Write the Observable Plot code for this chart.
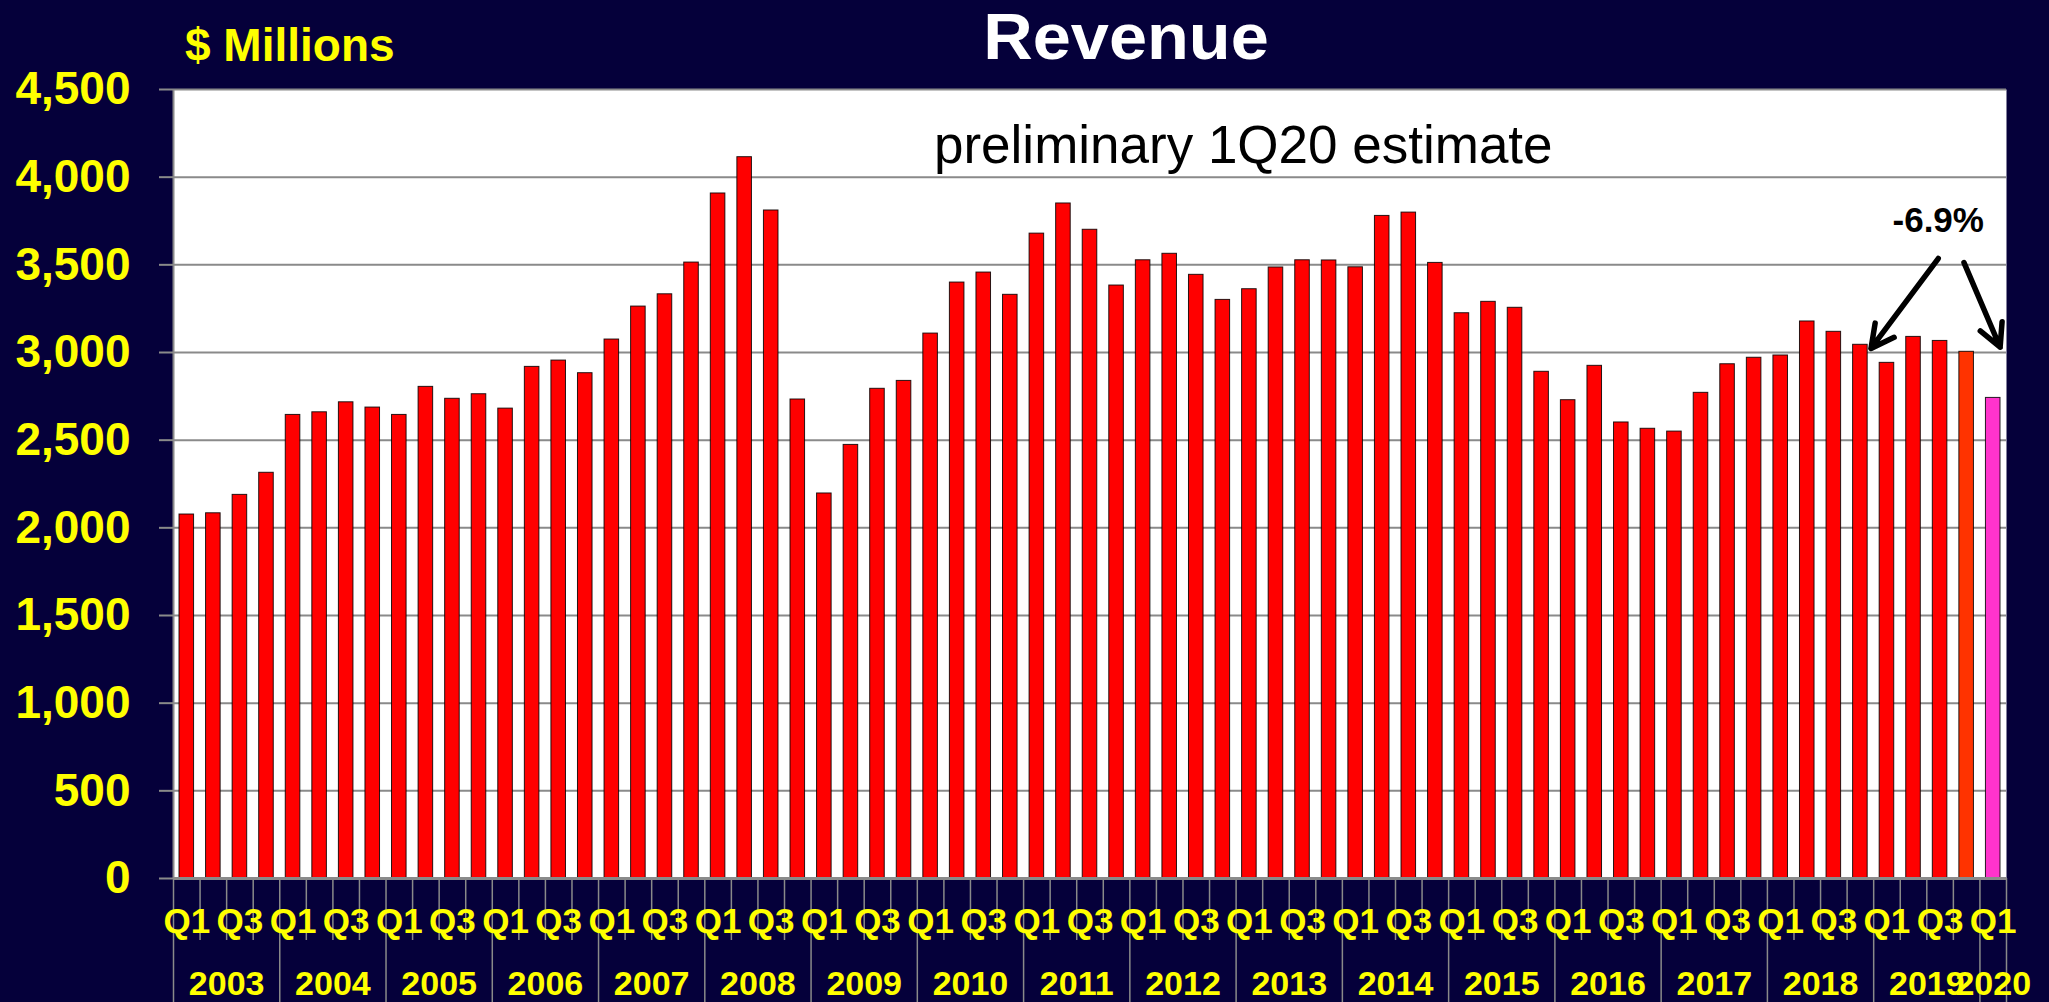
<!DOCTYPE html>
<html>
<head>
<meta charset="utf-8">
<script src="https://cdn.jsdelivr.net/npm/d3@7"></script>
<script src="https://cdn.jsdelivr.net/npm/@observablehq/plot@0.6"></script>
<style>
  html, body { margin: 0; padding: 0; background: #05003a; }
  #wrap { position: relative; width: 2049px; height: 1002px; overflow: hidden; background: #05003a; font-family: "Liberation Sans", Arial, sans-serif; }
  #wrap svg { position: absolute; left: 0; top: 0; }
  .lbl { position: absolute; line-height: 1; white-space: nowrap; font-weight: bold; }
</style>
</head>
<body>
<div id="wrap">
  <div class="lbl" id="title" style="color:#ffffff;font-size:64px;left:0;width:2252px;text-align:center;top:5px;transform:scaleX(1.07);transform-origin:1126px 0;">Revenue</div>
  <div class="lbl" id="unit" style="color:#ffff00;font-size:46px;left:185px;top:22px;">$ Millions</div>
</div>
<script>
// ---- data ----
const years = [2003, 2004, 2005, 2006, 2007, 2008, 2009, 2010, 2011, 2012, 2013, 2014, 2015, 2016, 2017, 2018, 2019, 2020];
const quarterLabels = ["Q1", "Q2", "Q3", "Q4"];
const revenue = [
  2076, 2083, 2188, 2314,
  2644, 2659, 2716, 2686,
  2644, 2804, 2736, 2762,
  2680, 2918, 2954, 2882,
  3074, 3262, 3332, 3513,
  3907, 4114, 3810, 2732,
  2196, 2473, 2793, 2838,
  3108, 3399, 3456, 3329,
  3678, 3850, 3700, 3382,
  3526, 3563, 3443, 3300,
  3361, 3485, 3526, 3525,
  3486, 3779, 3798, 3511,
  3224, 3289, 3255, 2890,
  2728, 2924, 2601, 2565,
  2549, 2770, 2933, 2970,
  2983, 3177, 3118, 3044,
  2941, 3089, 3066, 3004,
  2741
];
const yTicks = [0, 500, 1000, 1500, 2000, 2500, 3000, 3500, 4000, 4500];
const annotationText = "preliminary 1Q20 estimate";
const changeText = "-6.9%";

// ---- build table ----
const n = revenue.length;
const rows = revenue.map((v, i) => ({
  i,
  year: years[Math.floor(i / 4)],
  quarter: quarterLabels[i % 4],
  value: v,
  color: i === n - 1 ? "#ff33cc" : i === n - 2 ? "#ff3300" : "#ff0000"
}));

const qLabelTicks = rows.filter(d => d.i % 2 === 0).map(d => d.i + 0.5);
const yearCenters = years.map((y, k) => {
  const count = rows.filter(d => d.year === y).length;
  return k * 4 + count / 2;
});
const boundaries = d3.range(0, n + 1);
const yearBounds = boundaries.filter(b => b % 4 === 0 || b === n);
const quarterBounds = boundaries.filter(b => !(b % 4 === 0 || b === n));

const yellow = "#ffff00";
const grey = "#8a8a8a";

const chart = Plot.plot({
  width: 2049,
  height: 1002,
  marginTop: 89,
  marginBottom: 124,
  marginLeft: 173,
  marginRight: 43,
  style: { background: "transparent", fontFamily: "Liberation Sans, Arial, sans-serif", overflow: "visible" },
  x: { domain: [0, n], label: null },
  y: { domain: [0, 4500], label: null },
  color: { type: "identity" },
  marks: [
    Plot.frame({ fill: "white", stroke: "none" }),
    Plot.gridY({ ticks: yTicks, stroke: grey, strokeOpacity: 1, strokeWidth: 2 }),
    Plot.rectY(rows, {
      x1: "i", x2: d => d.i + 1, y: "value",
      fill: "color", stroke: "#000", strokeWidth: 1, strokeOpacity: 0.85,
      insetLeft: 6, insetRight: 6
    }),
    Plot.ruleX([0], { stroke: grey, strokeWidth: 2 }),
    Plot.ruleY([0], { stroke: grey, strokeWidth: 3 }),
    Plot.axisY({
      ticks: yTicks, tickFormat: d3.format(","), tickSize: 14, tickPadding: 29,
      stroke: grey, strokeWidth: 2, fill: yellow, fontSize: 46, fontWeight: "bold", label: null
    }),
    Plot.axisX({
      ticks: quarterBounds, tickSize: 62, stroke: grey, strokeWidth: 1.5, fill: "none", label: null
    }),
    Plot.axisX({
      ticks: yearBounds, tickSize: 124, stroke: grey, strokeWidth: 1.5, fill: "none", label: null
    }),
    Plot.axisX({
      ticks: qLabelTicks, tickFormat: t => quarterLabels[Math.floor(t) % 4],
      tickSize: 0, tickPadding: 30, fill: yellow, fontSize: 35, fontWeight: "bold", label: null
    }),
    Plot.axisX({
      ticks: yearCenters, tickFormat: t => String(years[Math.floor(t / 4)]),
      tickSize: 0, tickPadding: 92, fill: yellow, fontSize: 34, fontWeight: "bold", label: null
    }),
    Plot.text([annotationText], {
      x: 40.27, y: 4175, text: d => d, fontSize: 53, fill: "#000"
    }),
    Plot.text([changeText], {
      x: 66.43, y: 3750, text: d => d, fontSize: 35, fontWeight: "bold", fill: "#000"
    }),
    Plot.arrow([
      { x1: 66.43, y1: 3536, x2: 63.9, y2: 3023 },
      { x1: 67.4, y1: 3513, x2: 68.76, y2: 3030 }
    ], {
      x1: "x1", y1: "y1", x2: "x2", y2: "y2",
      stroke: "#000", strokeWidth: 5.5, headLength: 7, headAngle: 55
    })
  ]
});
document.getElementById("wrap").prepend(chart);
</script>
</body>
</html>
